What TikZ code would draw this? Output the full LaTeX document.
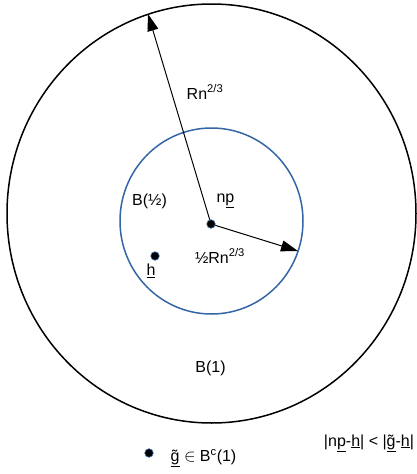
\documentclass[tikz,border=0pt]{standalone}
\usepackage{fontspec}
\setmainfont{Liberation Sans}
\usetikzlibrary{arrows.meta}
\definecolor{bolaazul}{RGB}{52,101,164}
\newcommand{\vp}{\underline{p}}
\newcommand{\vh}{\underline{h}}
\newcommand{\vg}{\underline{\~{g}}}

\begin{document}
\begin{tikzpicture}[x=1pt,y=-1pt,line width=1pt,
  punto/.style={circle,fill=black,draw=bolaazul,line width=0.6pt,inner sep=0pt,minimum size=8.5pt},
  flecha/.style={-{Triangle[length=17pt,width=11pt]}},
  every node/.style={font=\fontsize{16}{19}\selectfont}]
  \useasboundingbox (0,0) rectangle (417,474);
  % bola exterior B(1)
  \draw[line width=1.5pt] (211.5,213.5) ellipse [x radius=204.5pt,y radius=209.5pt];
  % bola interior B(1/2)
  \draw[bolaazul,line width=1.5pt] (211.5,221) ellipse [x radius=91.5pt,y radius=93pt];
  % puntos
  \node[punto] (np) at (211,224) {};
  \node[punto] (h) at (155,256) {};
  \node[punto] (g) at (149,453) {};
  % radios
  \coordinate (tipext) at (148,14);
  \coordinate (tipint) at (298,251);
  \draw[flecha] (np) -- (tipext);
  \draw[flecha] (np) -- (tipint);
  % textos
  \node (rext) at (205,92) {Rn\textsuperscript{2/3}};
  \node (bmedio) at (149.5,201) {B(½)};
  \node (nplab) at (225.5,201) {n\vp};
  \node (hlab) at (151,271) {\vh};
  \node (rint) at (220,256) {½Rn\textsuperscript{2/3}};
  \node (buno) at (210.5,368) {B(1)};
  \node (glab) at (203.5,458) {\vg{} $\in$ B\textsuperscript{c}(1)};
  \node (desig) at (369,443) {|n\vp-\vh| < |\vg-\vh|};
\end{tikzpicture}
\end{document}
